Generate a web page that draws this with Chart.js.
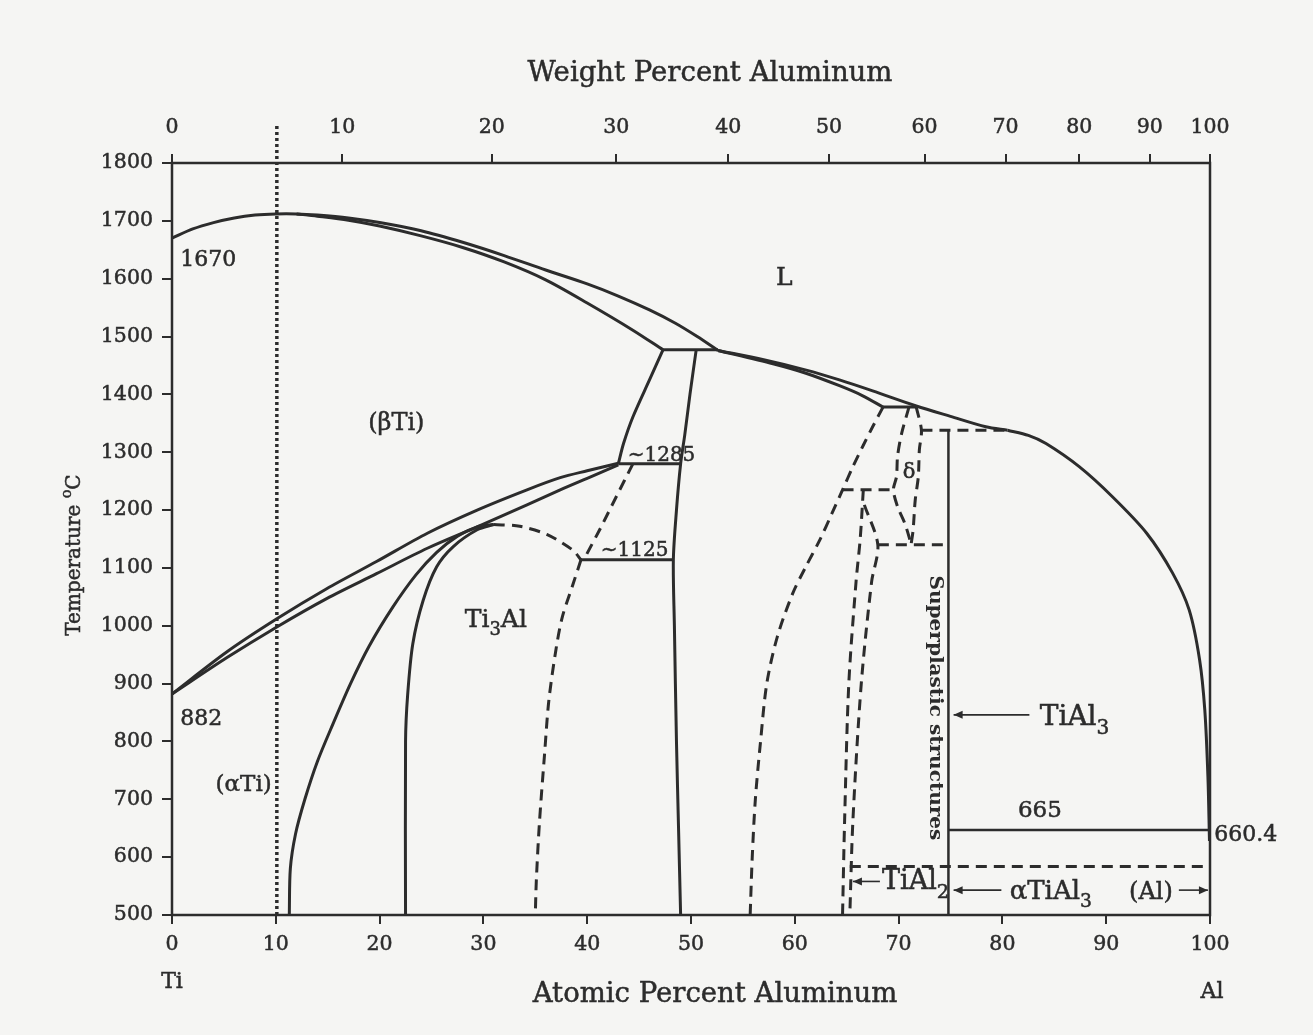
<!DOCTYPE html>
<html><head><meta charset="utf-8">
<script src="https://cdn.jsdelivr.net/npm/chart.js@4"></script>
<style>html,body{margin:0;padding:0;background:#f5f5f3;}canvas{display:block;}</style>
</head><body>
<canvas id="c" width="1313" height="1035"></canvas>
<script>
// ---------- axis tick values ----------
const atTicks   = [0,10,20,30,40,50,60,70,80,90,100];
const wtLabels  = ['0','10','20','30','40','50','60','70','80','90','100'];
const wtTickAt  = [0,16.4,30.8,42.8,53.6,63.3,72.5,80.3,87.4,94.2,100];
const tempTicks = [500,600,700,800,900,1000,1100,1200,1300,1400,1500,1600,1700,1800];

// ---------- solid boundaries ----------
const liquidusTiSide = [[0,1670],[2,1686],[4,1697],[6,1705],[8,1710],[10,1712],[12,1712],[14,1710],[17,1705],[20,1697],[24,1683],[28,1663],[32,1640],[36,1615],[40,1591],[43,1570],[46,1546],[48.5,1523],[50.6,1500],[52.6,1476]];
const solidusBeta    = [[12,1712],[14,1708],[17,1701],[20,1691],[24,1674],[28,1654],[32,1629],[36,1598],[40,1558],[44.4,1511],[47.3,1477]];
const peritecticHigh = [[47.3,1477],[52.6,1477]];
const betaTransus    = [[47.3,1477],[46.0,1425],[44.4,1361],[43.5,1315],[43.0,1280]];
const tiAlLeftEdge   = [[50.5,1477],[49.9,1400],[49.4,1330],[49.0,1280],[48.6,1200],[48.3,1114],[48.4,1000],[48.6,800],[48.8,650],[49.0,500]];
const line1285       = [[43.0,1280],[49.0,1280]];
const line1125       = [[39.4,1114],[48.3,1114]];
const alphaBetaUpper = [[0,882],[5.3,955],[10.1,1012],[14.9,1064],[19.7,1111],[24.6,1160],[29.4,1200],[34.2,1235],[37.4,1256],[40,1268],[43,1281]];
const alphaBetaLower = [[0,882],[5.3,945],[10.1,998],[14.9,1047],[19.7,1090],[24.6,1134],[29.4,1171],[34.2,1209],[37.4,1235],[40,1255],[43,1278]];
const ti3AlOuter     = [[11.3,500],[11.4,580],[11.9,640],[12.8,700],[14.0,765],[15.5,830],[17.2,900],[19.0,965],[21.3,1033],[23.5,1088],[25.5,1127],[27.5,1155],[29.4,1171],[31,1175]];
const ti3AlInner     = [[22.5,500],[22.5,800],[22.7,880],[23.2,969],[24.2,1044],[25.5,1102],[27.1,1137],[29.4,1166],[31,1175]];
const liquidusSliverHi = [[52.6,1476],[57,1460],[61.1,1442],[64.3,1425],[67.5,1406],[71.7,1380],[75,1362],[78.4,1344],[80.5,1338]];
const liquidusSliverLo = [[52.6,1476],[57.9,1453],[61,1437],[64.3,1415],[66.5,1398],[68.5,1378]];
const peritecticLow  = [[68.5,1378],[71.7,1378]];
const liquidusAlSide = [[80.5,1338],[82.5,1329],[84.2,1315],[87.4,1275],[90.6,1223],[93.9,1160],[96.4,1091],[98,1027],[99,941],[99.5,854],[99.8,739],[99.95,628]];
const tiAl3Line      = [[74.8,1338],[74.8,500]];
const line665        = [[74.8,647],[100,647]];

// ---------- dashed boundaries ----------
const ti3AlDomeTop   = [[31,1175],[33.5,1172],[36.1,1158],[38.6,1131],[39.4,1114]];
const ti3AlRight     = [[39.4,1114],[38.6,1070],[37.6,1015],[37.0,960],[36.3,870],[35.9,780],[35.4,660],[35.1,560],[35.0,500]];
const alphaGamma     = [[44.4,1280],[42.8,1223],[41.2,1166],[39.9,1122],[39.7,1114]];
const tiAlRightEdge  = [[68.5,1378],[67.5,1344],[66.6,1312],[65.6,1275],[64.6,1235],[63.6,1195],[62.4,1148],[61.0,1100],[59.8,1056],[58.3,980],[57.3,900],[56.7,800],[56.2,700],[55.9,600],[55.7,500]];
const dashed1235     = [[64.6,1235],[69.5,1235]];
const deltaLeft      = [[71.0,1378],[70.3,1333],[69.9,1293],[69.8,1258],[69.5,1235],[69.9,1206],[70.6,1177],[71.1,1148],[71.2,1140]];
const deltaRight     = [[71.7,1378],[72.2,1338],[72.0,1304],[71.9,1258],[71.6,1217],[71.4,1166],[71.2,1140]];
const dashed1340     = [[72.2,1338],[80.5,1338]];
const dashed1140     = [[68.0,1140],[74.8,1140]];
const tiAl2Left      = [[66.6,1235],[66.3,1150],[65.9,1076],[65.2,899],[64.8,664],[64.6,500]];
const tiAl2Right     = [[66.7,1209],[68.0,1140],[67.4,1076],[66.4,899],[65.6,664],[65.3,500]];
const dashed585      = [[65.3,584],[100,584]];

// ---------- dotted alloy line ----------
const alloyLine      = [[10.1,500],[10.1,1865]];

const INK = '#2c2c2c';
const BG  = '#f5f5f3';
const FAM = "'DejaVu Serif','Liberation Serif',serif";
const font = (s, w) => (w||'normal') + ' ' + s + 'px ' + FAM;

function ds(pts, opt) {
  return Object.assign({
    data: pts.map(p => ({x: p[0], y: p[1]})),
    showLine: true, pointRadius: 0, borderColor: INK, borderWidth: 3,
    tension: 0, fill: false, xAxisID: 'x', yAxisID: 'y'
  }, opt || {});
}
const curve = {tension: 0.3};
const dash  = {borderDash: [11, 7], borderWidth: 3};
const dashC = {borderDash: [11, 7], borderWidth: 3, tension: 0.3};

const datasets = [
  ds(liquidusTiSide, curve), ds(solidusBeta, curve), ds(peritecticHigh), ds(betaTransus, curve),
  ds(tiAlLeftEdge, curve), ds(line1285), ds(line1125), ds(alphaBetaUpper, curve), ds(alphaBetaLower, curve),
  ds(ti3AlOuter, curve), ds(ti3AlInner, curve), ds(liquidusSliverHi, curve), ds(liquidusSliverLo, curve),
  ds(peritecticLow), ds(liquidusAlSide, curve), ds(tiAl3Line, {borderWidth: 2.5}), ds(line665, {borderWidth: 2.5}),
  ds(ti3AlDomeTop, dashC), ds(ti3AlRight, dashC), ds(alphaGamma, dashC), ds(tiAlRightEdge, dashC),
  ds(dashed1235, dash), ds(deltaLeft, dashC), ds(deltaRight, dashC), ds(dashed1340, dash), ds(dashed1140, dash),
  ds(tiAl2Left, dashC), ds(tiAl2Right, dashC), ds(dashed585, dash),
  ds(alloyLine, {borderDash: [3, 3], borderWidth: 3.5, clip: false})
];

function rich(ctx, segs, x, y, size, align, weight) {
  const sz = s => s ? size * 0.72 : size;
  const ws = segs.map(([t, s]) => { ctx.font = font(sz(s), weight); return ctx.measureText(t).width; });
  const tot = ws.reduce((a, b) => a + b, 0);
  let cx = align === 'center' ? x - tot / 2 : align === 'right' ? x - tot : x;
  ctx.textAlign = 'left';
  segs.forEach(([t, s], i) => {
    ctx.font = font(sz(s), weight);
    const dy = s === 'sub' ? size * 0.32 : s === 'sup' ? -size * 0.45 : 0;
    ctx.fillText(t, cx, y + dy);
    ctx.lineWidth = 0.5; ctx.strokeText(t, cx, y + dy);
    cx += ws[i];
  });
}
function arrow(ctx, x1, y1, x2, y2) {
  ctx.lineWidth = 1.6;
  ctx.beginPath(); ctx.moveTo(x1, y1); ctx.lineTo(x2, y2); ctx.stroke();
  const a = Math.atan2(y2 - y1, x2 - x1), L = 9, H = 4;
  ctx.beginPath();
  ctx.moveTo(x2, y2);
  ctx.lineTo(x2 - L * Math.cos(a) + H * Math.sin(a), y2 - L * Math.sin(a) - H * Math.cos(a));
  ctx.lineTo(x2 - L * Math.cos(a) - H * Math.sin(a), y2 - L * Math.sin(a) + H * Math.cos(a));
  ctx.closePath(); ctx.fill();
}

const annot = {
  id: 'annot',
  beforeDraw(chart) {
    const c = chart.ctx; c.save(); c.fillStyle = BG; c.fillRect(0, 0, chart.width, chart.height); c.restore();
  },
  afterDatasetsDraw(chart) {
    const c = chart.ctx, ca = chart.chartArea, xs = chart.scales.x, ys = chart.scales.y;
    const X = v => xs.getPixelForValue(v), Y = v => ys.getPixelForValue(v);
    c.save();
    c.strokeStyle = INK; c.fillStyle = INK; c.lineWidth = 2.5;
    c.strokeRect(ca.left, ca.top, ca.width, ca.height);
    c.textBaseline = 'alphabetic';
    // in-plot labels
    rich(c, [['1670']], X(0.8), Y(1622), 22);
    rich(c, [['882']], X(0.8), Y(829), 22);
    rich(c, [['L']], X(59), Y(1589), 25, 'center');
    rich(c, [['(βTi)']], X(18.9), Y(1338), 24);
    rich(c, [['~1285']], X(43.9), Y(1285), 20);
    rich(c, [['~1125']], X(41.3), Y(1121), 20);
    rich(c, [['Ti'], ['3', 'sub'], ['Al']], X(28.2), Y(998), 25);
    rich(c, [['(αTi)']], X(4.2), Y(715), 23);
    rich(c, [['δ']], X(71.0), Y(1255), 21, 'center');
    rich(c, [['665']], X(81.5), Y(670), 23);
    rich(c, [['660.4']], X(100.4), Y(628), 22);
    rich(c, [['TiAl'], ['3', 'sub']], X(83.6), Y(829), 28);
    rich(c, [['TiAl'], ['2', 'sub']], X(68.4), Y(545), 27);
    rich(c, [['αTiAl'], ['3', 'sub']], X(80.7), Y(528), 26);
    rich(c, [['(Al)']], X(92.2), Y(528), 24);
    arrow(c, X(82.6), Y(846), X(75.3), Y(846));
    arrow(c, X(68.2), Y(558), X(65.6), Y(558));
    arrow(c, X(79.9), Y(543), X(75.3), Y(543));
    arrow(c, X(97.0), Y(543), X(99.8), Y(543));
    // rotated "Superplastic structures"
    c.save();
    c.translate(X(73.5), Y(858));
    c.rotate(Math.PI / 2);
    c.font = font(18, 'bold');
    const t = 'Superplastic structures';
    const w = c.measureText(t).width;
    c.scale(265 / w, 1);
    c.textAlign = 'center'; c.textBaseline = 'middle';
    c.fillText(t, 0, 0);
    c.restore();
    // axis titles
    c.textBaseline = 'alphabetic';
    rich(c, [['Weight Percent Aluminum']], 710, 81, 27.5, 'center');
    rich(c, [['Atomic Percent Aluminum']], 715, 1002, 27.5, 'center');
    rich(c, [['Ti']], ca.left, 988, 22, 'center');
    rich(c, [['Al']], ca.right + 2, 998, 22, 'center');
    c.save();
    c.translate(80, 555);
    c.rotate(-Math.PI / 2);
    rich(c, [['Temperature '], ['o', 'sup'], ['C']], 0, 0, 20, 'center');
    c.restore();
    c.restore();
  }
};

const tickFont = {family: FAM, size: 20.5};
const tickText = {font: tickFont, color: INK, textStrokeColor: INK, textStrokeWidth: 0.5};
new Chart(document.getElementById('c'), {
  type: 'scatter',
  data: {datasets},
  options: {
    responsive: false, animation: false, devicePixelRatio: 1,
    layout: {padding: {left: 0, right: 103, top: 0, bottom: 0}},
    plugins: {legend: {display: false}, tooltip: {enabled: false}},
    scales: {
      x: {
        type: 'linear', position: 'bottom', min: 0, max: 100,
        afterBuildTicks: s => { s.ticks = atTicks.map(v => ({value: v})); },
        afterFit: s => { s.height = 120; },
        ticks: Object.assign({padding: 8, maxRotation: 0, autoSkip: false, callback: v => String(v)}, tickText),
        grid: {drawOnChartArea: false, tickLength: 9, color: INK, lineWidth: 2},
        border: {display: false}
      },
      xTop: {
        type: 'linear', position: 'top', min: 0, max: 100,
        afterBuildTicks: s => { s.ticks = wtTickAt.map(v => ({value: v})); },
        afterFit: s => { s.height = 163; },
        ticks: Object.assign({padding: 14, maxRotation: 0, autoSkip: false, callback: (v, i) => wtLabels[i]}, tickText),
        grid: {drawOnChartArea: false, tickLength: 9, color: INK, lineWidth: 2},
        border: {display: false}
      },
      y: {
        type: 'linear', position: 'left', min: 500, max: 1800,
        afterBuildTicks: s => { s.ticks = tempTicks.map(v => ({value: v})); },
        afterFit: s => { s.width = 172; },
        ticks: Object.assign({padding: 9, autoSkip: false, callback: v => String(v)}, tickText),
        grid: {drawOnChartArea: false, tickLength: 10, color: INK, lineWidth: 2},
        border: {display: false}
      }
    }
  },
  plugins: [annot]
});
</script>
</body></html>
